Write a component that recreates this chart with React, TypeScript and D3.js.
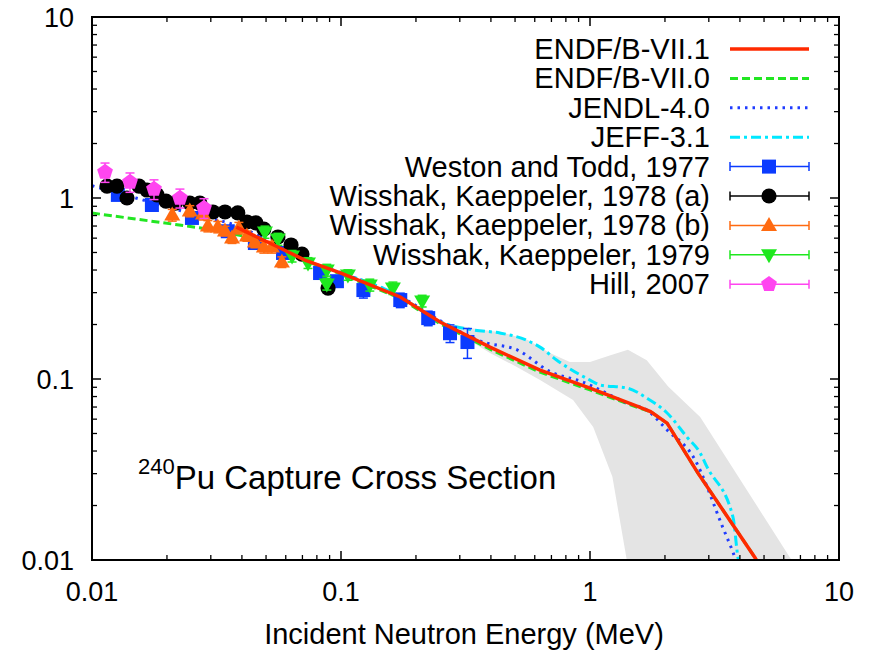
import React from "react";
import * as d3 from "d3";

// ---------- data ----------
const xTickValues = [0.01, 0.1, 1, 10];
const xTickLabels = ["0.01", "0.1", "1", "10"];
const yTickValues = [0.01, 0.1, 1, 10];
const yTickLabels = ["0.01", "0.1", "1", "10"];

const endf71E = [0.038, 0.0558, 0.0716, 0.1, 0.173, 0.25, 0.3965, 0.63, 1.0, 1.58, 1.75, 2.04, 2.71, 4.6, 5.0];
const endf71V = [0.69, 0.536, 0.454, 0.385, 0.284, 0.2065, 0.15, 0.112, 0.089, 0.07, 0.066, 0.057, 0.0303, 0.0103, 0.0083];

const endf70E = [0.01, 0.027, 0.045, 0.0558, 0.0716, 0.1, 0.173, 0.25, 0.3965, 0.63, 1.0, 1.58, 1.75, 2.04, 2.71, 4.6, 5.0];
const endf70V = [0.826, 0.685, 0.6, 0.53, 0.45, 0.38, 0.279, 0.202, 0.146, 0.109, 0.087, 0.069, 0.066, 0.057, 0.0303, 0.0103, 0.0083];

const jendlE = [0.01, 0.015, 0.025, 0.04, 0.0558, 0.0716, 0.1, 0.173, 0.25, 0.3717, 0.5113, 0.69, 0.936, 1.41, 1.69, 2.04, 2.6, 3.41, 3.82, 4.0];
const jendlV = [1.17, 1.0, 0.82, 0.685, 0.54, 0.455, 0.386, 0.286, 0.21, 0.16, 0.1446, 0.11, 0.0962, 0.0737, 0.0674, 0.0523, 0.0371, 0.0152, 0.0103, 0.0085];

const jeffE = [0.1, 0.173, 0.25, 0.3402, 0.4346, 0.5552, 0.63, 0.7363, 1.0, 1.1, 1.41, 1.69, 2.04, 2.45, 2.77, 2.95, 3.75, 3.93, 4.05];
const jeffV = [0.385, 0.285, 0.207, 0.1866, 0.1795, 0.164, 0.15, 0.127, 0.0986, 0.0926, 0.0891, 0.0785, 0.0649, 0.0478, 0.039, 0.0327, 0.0173, 0.0103, 0.0088];

const bandUpperE = [0.25, 0.34, 0.45, 0.56, 0.69, 0.83, 1.0, 1.2, 1.42, 1.69, 2.06, 2.77, 6.36, 7.0];
const bandUpperV = [0.207, 0.19, 0.18, 0.165, 0.139, 0.124, 0.124, 0.135, 0.145, 0.127, 0.091, 0.0617, 0.0103, 0.0085];
const bandLowerE = [0.25, 0.3965, 0.5, 0.63, 0.855, 1.03, 1.23, 1.4, 1.45];
const bandLowerV = [0.205, 0.139, 0.118, 0.0986, 0.0766, 0.0543, 0.0288, 0.0103, 0.008];

const westonE = [0.0127, 0.0174, 0.0252, 0.0351, 0.0451, 0.0585, 0.0824, 0.0963, 0.123, 0.173, 0.224, 0.274, 0.322];
const westonV = [1.04, 0.915, 0.776, 0.655, 0.564, 0.497, 0.385, 0.347, 0.31, 0.273, 0.217, 0.179, 0.16];
const westonErr = [0.04, 0.04, 0.035, 0.03, 0.025, 0.02, 0.02, 0.02, 0.03, 0.025, 0.02, 0.02, 0.03];

const wk78aE = [0.01149, 0.0126, 0.01382, 0.01545, 0.01663, 0.01824, 0.01982, 0.0216, 0.0247, 0.0271, 0.0306, 0.0342, 0.0385, 0.0419, 0.0455, 0.049, 0.0558, 0.063, 0.0697, 0.0887];
const wk78aV = [1.164, 1.164, 1.0, 1.164, 1.107, 1.04, 0.962, 0.937, 0.937, 0.937, 0.837, 0.837, 0.827, 0.737, 0.728, 0.674, 0.609, 0.55, 0.49, 0.318];
const wk78aErr = [0.04, 0.04, 0.035, 0.04, 0.035, 0.03, 0.03, 0.03, 0.03, 0.03, 0.025, 0.025, 0.025, 0.02, 0.02, 0.02, 0.02, 0.02, 0.02, 0.015];

const wk78bE = [0.021, 0.0247, 0.0279, 0.0292, 0.032, 0.0342, 0.0365, 0.0389, 0.0419, 0.0451, 0.049, 0.0528, 0.0579];
const wk78bV = [0.805, 0.847, 0.816, 0.7, 0.692, 0.658, 0.601, 0.683, 0.617, 0.571, 0.536, 0.536, 0.443];
const wk78bErr = [0.06, 0.06, 0.06, 0.05, 0.05, 0.04, 0.04, 0.05, 0.04, 0.04, 0.04, 0.04, 0.03];

const wk79E = [0.0495, 0.0558, 0.0636, 0.0737, 0.0877, 0.0877, 0.1066, 0.1305, 0.1616, 0.2118];
const wk79V = [0.649, 0.593, 0.478, 0.438, 0.4, 0.335, 0.376, 0.331, 0.318, 0.27];
const wk79Err = [0.05, 0.045, 0.035, 0.03, 0.03, 0.025, 0.025, 0.025, 0.025, 0.02];

const hillE = [0.01128, 0.01421, 0.01774, 0.02255, 0.02817];
const hillV = [1.39, 1.225, 1.12, 1.0, 0.881];
const hillErr = [0.17, 0.15, 0.14, 0.12, 0.11];

const lineLegend = ["ENDF/B-VII.1", "ENDF/B-VII.0", "JENDL-4.0", "JEFF-3.1"];
const pointLegend = [
  "Weston and Todd, 1977",
  "Wisshak, Kaeppeler, 1978 (a)",
  "Wisshak, Kaeppeler, 1978 (b)",
  "Wisshak, Kaeppeler, 1979",
  "Hill, 2007",
];

// ---------- layout ----------
const W = 877, H = 655;
const L = 92, R = 839, T = 17, B = 560;
const FONT = "'Liberation Sans', Arial, Helvetica, sans-serif";

const x = d3.scaleLog().domain([0.01, 10]).range([L, R]);
const y = d3.scaleLog().domain([0.01, 10]).range([B, T]);

const zip = (e: number[], v: number[]) => e.map((d, i) => [d, v[i]] as [number, number]);

const lineGen = d3.line<[number, number]>().x(d => x(d[0])).y(d => y(d[1]));
const smoothGen = d3.line<[number, number]>().x(d => x(d[0])).y(d => y(d[1])).curve(d3.curveMonotoneX);

const C = {
  red: "#ff2a00",
  green: "#22e622",
  blue: "#1f3cff",
  cyan: "#00e8ff",
  sq: "#0b3bff",
  black: "#000000",
  orange: "#ff6a10",
  gTri: "#1ee81e",
  mag: "#ff45f0",
};

type Shape = "square" | "circle" | "tri" | "tridown" | "pent";

function Marker({ cx, cy, shape, color }: { cx: number; cy: number; shape: Shape; color: string }) {
  if (shape === "square") return <rect x={cx - 7} y={cy - 7} width={14} height={14} fill={color} />;
  if (shape === "circle") return <circle cx={cx} cy={cy} r={7.6} fill={color} />;
  if (shape === "tri")
    return <path d={`M${cx},${cy - 8.5}L${cx + 8},${cy + 5.5}L${cx - 8},${cy + 5.5}Z`} fill={color} />;
  if (shape === "tridown")
    return <path d={`M${cx},${cy + 8.5}L${cx + 8},${cy - 5.5}L${cx - 8},${cy - 5.5}Z`} fill={color} />;
  const pts = d3.range(5).map(k => {
    const a = -Math.PI / 2 + (k * 2 * Math.PI) / 5;
    return `${cx + 8.3 * Math.cos(a)},${cy + 8.3 * Math.sin(a)}`;
  });
  return <polygon points={pts.join(" ")} fill={color} />;
}

function PointSeries({ E, V, Err, shape, color }: { E: number[]; V: number[]; Err: number[]; shape: Shape; color: string }) {
  return (
    <g>
      {E.map((e, i) => {
        const cx = x(e);
        const y1 = y(V[i] + Err[i]);
        const y2 = y(Math.max(V[i] - Err[i], 0.011));
        return (
          <g key={i}>
            <line x1={cx} x2={cx} y1={y1} y2={y2} stroke={color} strokeWidth={1.5} />
            <line x1={cx - 4.5} x2={cx + 4.5} y1={y1} y2={y1} stroke={color} strokeWidth={1.5} />
            <line x1={cx - 4.5} x2={cx + 4.5} y1={y2} y2={y2} stroke={color} strokeWidth={1.5} />
            <Marker cx={cx} cy={y(V[i])} shape={shape} color={color} />
          </g>
        );
      })}
    </g>
  );
}

export default function App() {
  const decades = [0.01, 0.1, 1];
  const minor: number[] = [];
  decades.forEach(d => { for (let k = 2; k <= 9; k++) minor.push(d * k); });

  const bandPts = [...zip(bandUpperE, bandUpperV), ...zip(bandLowerE, bandLowerV).reverse()];
  const bandPath = d3.line<[number, number]>().x(d => x(d[0])).y(d => y(d[1])).curve(d3.curveLinearClosed)(bandPts) || "";

  const legendRowY = (i: number) => 49 + i * 29.4;
  const lx1 = 730, lx2 = 809, lmid = 769, ltext = 710;

  const lineStyles = [
    { color: C.red, dash: undefined as string | undefined, w: 3.5 },
    { color: C.green, dash: "8,4", w: 3 },
    { color: C.blue, dash: "2.5,5", w: 3 },
    { color: C.cyan, dash: "10,4,3,4", w: 3 },
  ];
  const pointStyles: { shape: Shape; color: string }[] = [
    { shape: "square", color: C.sq },
    { shape: "circle", color: C.black },
    { shape: "tri", color: C.orange },
    { shape: "tridown", color: C.gTri },
    { shape: "pent", color: C.mag },
  ];

  return (
    <svg width={W} height={H} style={{ position: "absolute", left: 0, top: 0, background: "#fff" }} fontFamily={FONT}>
      <defs>
        <clipPath id="plotclip">
          <rect x={L} y={T} width={R - L} height={B - T} />
        </clipPath>
      </defs>
      <g clipPath="url(#plotclip)">
        <path d={bandPath} fill="#e4e4e4" stroke="none" />
        <path d={lineGen(zip(endf70E, endf70V)) || ""} fill="none" stroke={C.green} strokeWidth={3} strokeDasharray="8,4" />
        <path d={smoothGen(zip(jendlE, jendlV)) || ""} fill="none" stroke={C.blue} strokeWidth={3} strokeDasharray="2.5,5" />
        <path d={smoothGen(zip(jeffE, jeffV)) || ""} fill="none" stroke={C.cyan} strokeWidth={3} strokeDasharray="10,4,3,4" />
        <PointSeries E={westonE} V={westonV} Err={westonErr} shape="square" color={C.sq} />
        <PointSeries E={wk78aE} V={wk78aV} Err={wk78aErr} shape="circle" color={C.black} />
        <PointSeries E={wk78bE} V={wk78bV} Err={wk78bErr} shape="tri" color={C.orange} />
        <PointSeries E={wk79E} V={wk79V} Err={wk79Err} shape="tridown" color={C.gTri} />
        <PointSeries E={hillE} V={hillV} Err={hillErr} shape="pent" color={C.mag} />
        <path d={lineGen(zip(endf71E, endf71V)) || ""} fill="none" stroke={C.red} strokeWidth={3.5} />
      </g>

      {/* frame */}
      <rect x={L} y={T} width={R - L} height={B - T} fill="none" stroke="#000" strokeWidth={2} />

      {/* ticks */}
      {xTickValues.map(v => (
        <g key={"xt" + v}>
          <line x1={x(v)} x2={x(v)} y1={B} y2={B - 9} stroke="#000" strokeWidth={1.5} />
          <line x1={x(v)} x2={x(v)} y1={T} y2={T + 9} stroke="#000" strokeWidth={1.5} />
        </g>
      ))}
      {minor.map(v => (
        <g key={"xm" + v}>
          <line x1={x(v)} x2={x(v)} y1={B} y2={B - 5} stroke="#000" strokeWidth={1.3} />
          <line x1={x(v)} x2={x(v)} y1={T} y2={T + 5} stroke="#000" strokeWidth={1.3} />
          <line x1={L} x2={L + 5} y1={y(v)} y2={y(v)} stroke="#000" strokeWidth={1.3} />
          <line x1={R} x2={R - 5} y1={y(v)} y2={y(v)} stroke="#000" strokeWidth={1.3} />
        </g>
      ))}
      {yTickValues.map(v => (
        <g key={"yt" + v}>
          <line x1={L} x2={L + 9} y1={y(v)} y2={y(v)} stroke="#000" strokeWidth={1.5} />
          <line x1={R} x2={R - 9} y1={y(v)} y2={y(v)} stroke="#000" strokeWidth={1.5} />
        </g>
      ))}

      {/* tick labels */}
      {xTickValues.map((v, i) => (
        <text key={"xl" + v} x={x(v)} y={601} textAnchor="middle" fontSize={27} fill="#000">{xTickLabels[i]}</text>
      ))}
      {yTickValues.map((v, i) => (
        <text key={"yl" + v} x={74} y={y(v) + 9.5} textAnchor="end" fontSize={27} fill="#000">{yTickLabels[i]}</text>
      ))}

      <text x={464} y={644} textAnchor="middle" fontSize={29} fill="#000">Incident Neutron Energy (MeV)</text>

      {/* title */}
      <text x={138} y={489} fontSize={33} fill="#000">
        <tspan fontSize={22} dy={-15}>240</tspan>
        <tspan dy={15}>Pu Capture Cross Section</tspan>
      </text>

      {/* legend */}
      {lineLegend.map((name, i) => (
        <g key={name}>
          <text x={ltext} y={legendRowY(i) + 10} textAnchor="end" fontSize={29} fill="#000">{name}</text>
          <line x1={lx1} x2={lx2} y1={legendRowY(i)} y2={legendRowY(i)} stroke={lineStyles[i].color} strokeWidth={lineStyles[i].w} strokeDasharray={lineStyles[i].dash} />
        </g>
      ))}
      {pointLegend.map((name, j) => {
        const i = j + 4;
        const yy = legendRowY(i);
        const s = pointStyles[j];
        return (
          <g key={name}>
            <text x={ltext} y={yy + 10} textAnchor="end" fontSize={29} fill="#000">{name}</text>
            <line x1={lx1} x2={lx2} y1={yy} y2={yy} stroke={s.color} strokeWidth={1.5} />
            <line x1={lx1} x2={lx1} y1={yy - 4.5} y2={yy + 4.5} stroke={s.color} strokeWidth={1.5} />
            <line x1={lx2} x2={lx2} y1={yy - 4.5} y2={yy + 4.5} stroke={s.color} strokeWidth={1.5} />
            <Marker cx={lmid} cy={yy} shape={s.shape} color={s.color} />
          </g>
        );
      })}
    </svg>
  );
}
